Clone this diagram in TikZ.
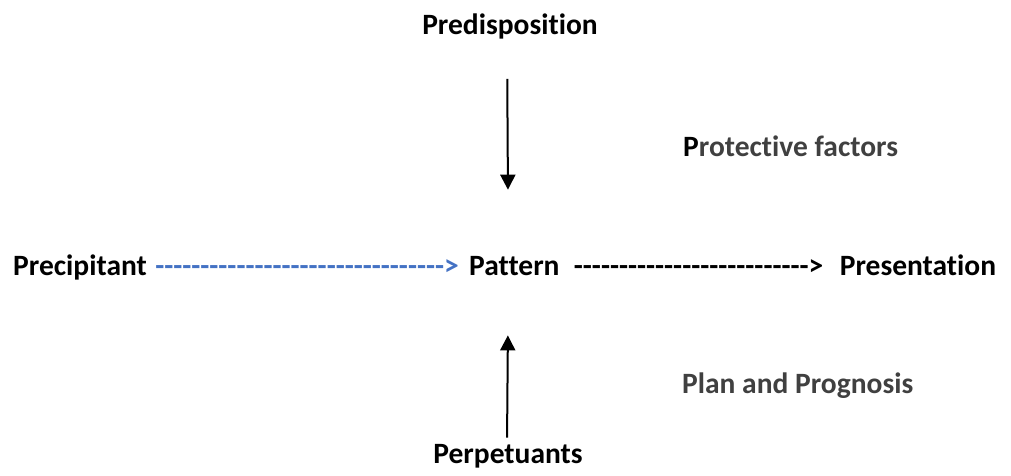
\documentclass[tikz,border=0pt]{standalone}
\usepackage{fontspec}
\newfontfamily\calibri{Carlito}[Ligatures=NoCommon]
\usepackage{tikz}
\usetikzlibrary{positioning, arrows.meta}
\usepackage{xcolor}

\definecolor{dashblue}{HTML}{4472C4}
\definecolor{factorgray}{HTML}{404040}

\begin{document}
\begin{tikzpicture}[x=1pt, y=1pt, >={Triangle[length=15pt,width=15pt]},
                every node/.style={inner sep=0pt, font=\calibri\bfseries\fontsize{29.5}{35}\selectfont},
                link/.style={->, line width=2pt}, node distance=12pt]

    \useasboundingbox (0,0) rectangle (1011,475);

    % the five P's
    \node[anchor=base] (pred) at (510,440) {Predisposition};
    \node[anchor=base west] (prec) at (13,200) {Precipitant};
    \node[anchor=base west] (pat) at (469,200) {Pattern};
    \node[anchor=base] (perp) at (508,12) {Perpetuants};

    % dashed text arrows of the middle row
    \node[base right=8pt of prec, text=dashblue] (blue) {\string-\string-\string-\string-\string-\string-\string-\string-\string-\string-\string-\string-\string-\string-\string-\string-\string-\string-\string-\string-\string-\string-\string-\string-\string-\string-\string-\string-\string-\string-\string-\string->};
    \node[base right=14pt of pat] (black) {\string-\string-\string-\string-\string-\string-\string-\string-\string-\string-\string-\string-\string-\string-\string-\string-\string-\string-\string-\string-\string-\string-\string-\string-\string-\string->};
    \node[base right=16pt of black] (pres) {Presentation};

    % side notes
    \node[anchor=base west, text=factorgray] (prot) at (683,319) {{\color{black}P}rotective factors};
    \node[anchor=base west, text=factorgray] (plan) at (682,82) {Plan and Prognosis};

    \draw[link, shorten <=39pt, shorten >=66pt] ([xshift=-3pt]pred.south) -- ([xshift=-6pt]pat.north);
    \draw[link, shorten <=6pt, shorten >=60pt] ([xshift=-1pt]perp.north) -- ([xshift=-6pt]pat.south);

\end{tikzpicture}
\end{document}
